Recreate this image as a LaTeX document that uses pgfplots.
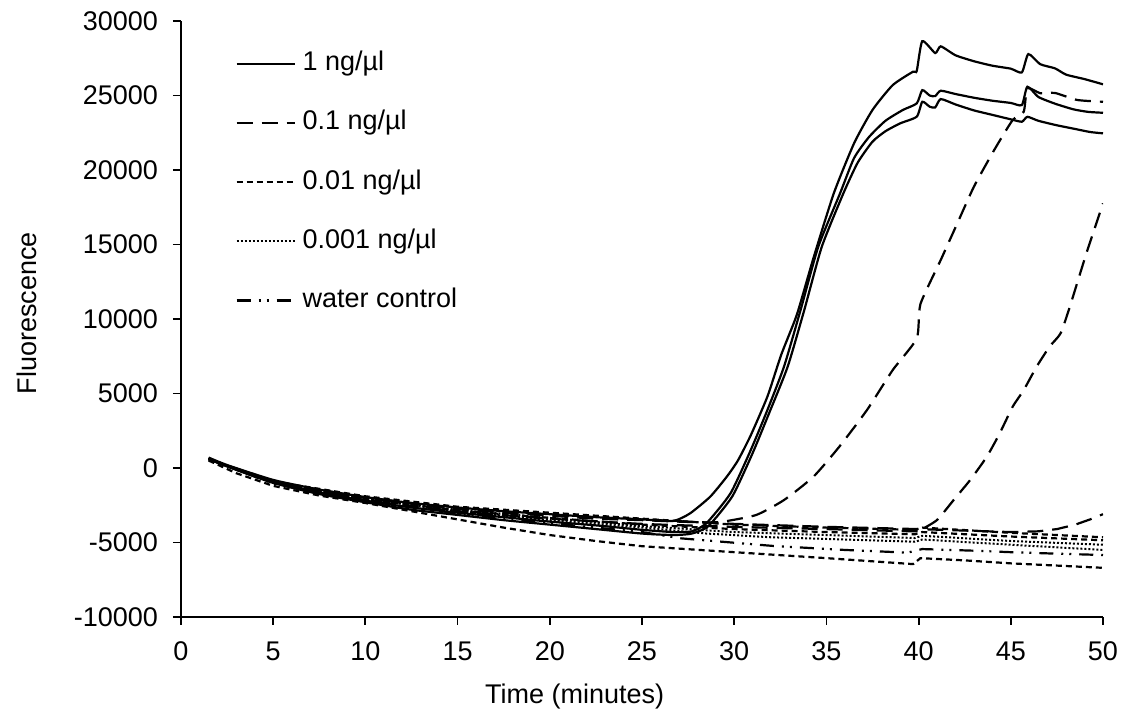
\documentclass[border=0pt]{standalone}
\usepackage{fontspec}
\setmainfont{Liberation Sans}
\usepackage{pgfplots}
\pgfplotsset{compat=1.18}
\begin{document}
\begin{tikzpicture}
\useasboundingbox (-90.5pt,-52.5pt) rectangle (472pt,308.5pt);
\begin{axis}[
 scale only axis, width=461pt, height=298pt,
 xmin=0,xmax=50,ymin=-10000,ymax=30000,
 xtick={0,5,...,50}, ytick={-10000,-5000,...,30000},
 axis lines*=left, axis line style={line width=0.9pt, -},
 tick align=outside, major tick length=4pt, tick style={line width=0.9pt, black},
 scaled y ticks=false,
 /pgf/number format/assume math mode=true,
 /pgf/number format/1000 sep={},
 ticklabel style={font=\fontsize{13.5}{16}\selectfont},
 xticklabel style={yshift=-5pt},
 yticklabel style={xshift=-4pt},
 xlabel={Time (minutes)}, ylabel={Fluorescence},
 every axis x label/.style={at={(axis description cs:0.427,-0.134)},anchor=center,font=\fontsize{13.5}{16}\selectfont},
 every axis y label/.style={at={(axis description cs:-0.167,0.51)},rotate=90,anchor=center,font=\fontsize{13.5}{16}\selectfont},
 legend style={draw=none, fill=none, at={(axis description cs:0.0586,0.951)}, anchor=north west, inner sep=0pt, row sep=16.6pt, font=\fontsize{13.5}{16}\selectfont, nodes={inner sep=0pt, text height=10pt, text depth=3pt}, /tikz/every odd column/.append style={column sep=3.5pt}},
 legend image code/.code={\draw[#1] (0pt,0pt) -- (29pt,0pt);},
 legend cell align=left,
 every axis plot/.append style={line width=1.1pt, black},
]
% 1 ng/ul (solid)
\addplot[solid, smooth, tension=0.35] coordinates {(1.5,700)(2.5,200)(5,-800)(7.5,-1450)(10,-1950)(12.5,-2350)(15,-2650)(17.5,-2900)(20,-3100)(22.5,-3300)(25,-3450)(26.7,-3550)(27.6,-3050)(28.7,-1925)(29.6,-580)(30.2,500)(30.9,2200)(31.8,4790)(32.55,7600)(33.4,10300)(34.3,14100)(35.4,18430)(36.5,21790)(37.5,24030)(38.6,25700)(39.7,26600)(39.9,26650)(40.2,28650)(40.9,27850)(41.2,28300)(42,27700)(43,27300)(44,27000)(45,26800)(45.6,26550)(45.95,27780)(46.6,27100)(47.4,26820)(48,26400)(49,26100)(50,25750)};
\addlegendentry{1 ng/\textmu l}
% 0.1 ng/ul (long dashes)
\addplot[dash pattern=on 8pt off 4.5pt, smooth, tension=0.35] coordinates {(1.5,650)(2.5,150)(5,-850)(7.5,-1500)(10,-2000)(12.5,-2400)(15,-2750)(17.5,-3000)(20,-3200)(22.5,-3400)(25,-3500)(27,-3600)(28.5,-3650)(29.4,-3600)(31.2,-3150)(32.7,-2150)(34.3,-580)(35.7,1430)(37.2,3890)(38.6,6580)(39.9,8700)(40.1,11000)(41.2,13960)(42.1,16420)(43.0,18880)(44.1,21340)(45.1,23350)(45.7,23910)(45.9,25480)(46.6,25150)(47.4,25170)(48.6,24700)(50,24580)};
\addlegendentry{0.1 ng/\textmu l}
% 0.01 ng/ul (short dashes)
\addplot[dash pattern=on 3pt off 2pt] coordinates {(1.5,600)(5,-900)(10,-1900)(15,-2600)(20,-3000)(25,-3400)(30,-3800)(35,-4000)(39.8,-4150)(40.2,-4000)(45,-4350)(50,-4650)};
\addlegendentry{0.01 ng/\textmu l}
% 0.001 ng/ul (dotted)
\addplot[dash pattern=on 1pt off 1pt, line width=1pt] coordinates {(1.5,600)(5,-1000)(10,-2100)(15,-2900)(20,-3500)(25,-4000)(28.5,-4400)(32,-4650)(36,-4800)(39.8,-4950)(40.2,-4800)(45,-5150)(50,-5500)};
\addlegendentry{0.001 ng/\textmu l}
% water control (dash dot dot)
\addplot[dash pattern=on 7pt off 4pt on 1pt off 3pt on 1pt off 4pt] coordinates {(1.5,600)(5,-1050)(10,-2200)(15,-3050)(20,-3700)(25,-4300)(27.1,-4720)(32.1,-5230)(36,-5500)(39.4,-5680)(40.2,-5440)(43,-5550)(45,-5650)(47.5,-5750)(50,-5840)};
\addlegendentry{water control}
% further replicates
\addplot[solid, forget plot, smooth, tension=0.35] coordinates {(1.5,650)(2.5,150)(5,-900)(7.5,-1650)(10,-2200)(12.5,-2650)(15,-3000)(17.5,-3300)(20,-3600)(22.5,-3850)(25,-4150)(26.7,-4300)(27.7,-4250)(28.5,-3700)(29.8,-1700)(30.9,1210)(31.8,3890)(32.7,6800)(33.6,10600)(34.56,14850)(35.74,18430)(36.5,20800)(37.3,22200)(38.2,23300)(39.15,24030)(39.9,24470)(40.2,25360)(40.6,25000)(40.9,24960)(41.2,25320)(42,25100)(43,24850)(44,24650)(45,24500)(45.6,24360)(45.9,25590)(46.5,24900)(47.4,24450)(48.4,24070)(49.2,23900)(50,23840)};
\addplot[solid, forget plot, smooth, tension=0.35] coordinates {(1.5,600)(2.5,100)(5,-1000)(7.5,-1750)(10,-2300)(12.5,-2800)(15,-3150)(17.5,-3500)(20,-3800)(22.5,-4100)(25,-4400)(26.7,-4500)(27.7,-4400)(28.6,-3900)(29.9,-1900)(31.0,1000)(31.9,3700)(32.9,6800)(33.8,10600)(34.75,14850)(35.92,18430)(36.7,20500)(37.5,21900)(38.2,22600)(39.0,23130)(39.9,23580)(40.2,24580)(40.6,24250)(40.9,24200)(41.2,24760)(42,24400)(43,24000)(44,23700)(45,23400)(45.6,23240)(45.9,23570)(46.5,23300)(47.5,23000)(48.5,22750)(49.3,22550)(50,22460)};
\addplot[dash pattern=on 8pt off 4.5pt, forget plot, smooth, tension=0.35] coordinates {(1.5,600)(5,-950)(10,-2150)(15,-2900)(20,-3400)(25,-3750)(30,-3950)(35,-4100)(39.8,-4250)(40.1,-4160)(41.0,-3490)(41.9,-2150)(42.8,-800)(43.7,760)(44.4,2330)(45.1,4110)(45.7,5230)(46.4,6800)(47.1,8140)(47.7,9040)(48.2,10820)(49.1,14410)(50,17760)};
\addplot[dash pattern=on 8pt off 4.5pt, forget plot] coordinates {(1.5,600)(5,-900)(10,-2000)(15,-2700)(20,-3150)(25,-3450)(30,-3750)(35,-3950)(40,-4100)(45,-4300)(46.5,-4250)(47.5,-4100)(48.5,-3800)(49.3,-3450)(50,-3100)};
\addplot[dash pattern=on 3pt off 2pt, forget plot] coordinates {(1.5,600)(5,-1000)(10,-2100)(15,-2850)(20,-3350)(25,-3800)(30,-4100)(35,-4300)(39.8,-4450)(40.2,-4300)(45,-4600)(50,-4850)};
\addplot[dash pattern=on 3pt off 2pt, forget plot] coordinates {(1.5,500)(3,-350)(5,-1200)(7.5,-1850)(10,-2350)(12.5,-2900)(15,-3450)(17.5,-4000)(20,-4500)(22.5,-4900)(25,-5250)(27.5,-5450)(30,-5650)(35,-6050)(39.7,-6450)(40.1,-6050)(42.5,-6200)(45,-6400)(47.5,-6550)(50,-6700)};
\addplot[dash pattern=on 1pt off 1pt, line width=1pt, forget plot] coordinates {(1.5,600)(5,-950)(10,-2050)(15,-2800)(20,-3350)(25,-3900)(30,-4300)(35,-4500)(39.8,-4700)(40.2,-4550)(45,-4900)(50,-5150)};
\end{axis}
\end{tikzpicture}
\end{document}
